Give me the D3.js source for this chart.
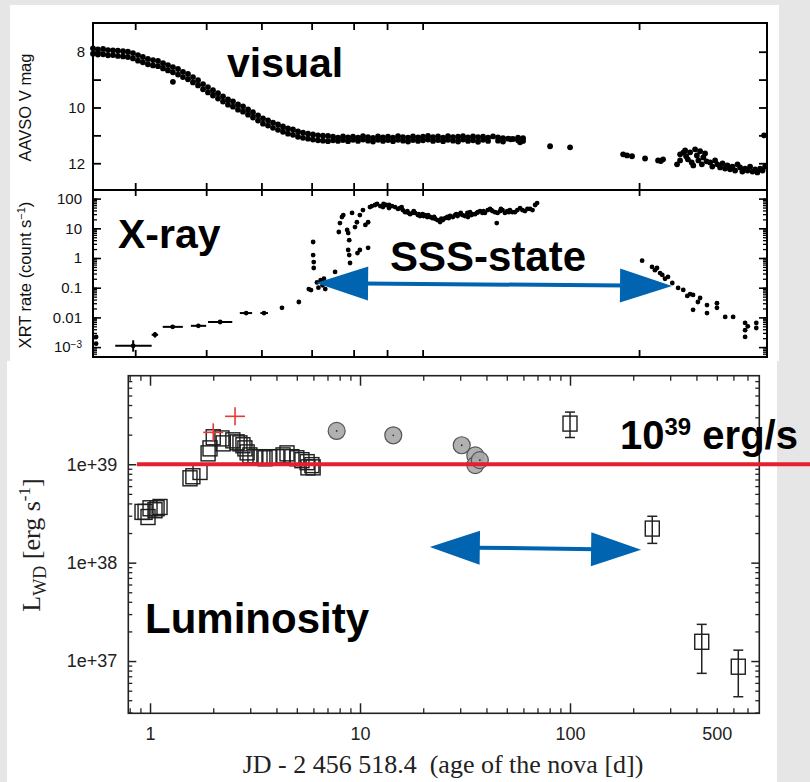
<!DOCTYPE html>
<html>
<head>
<meta charset="utf-8">
<script src="https://d3js.org/d3.v7.min.js"></script>
<style>
body { margin: 0; background: #e6e6e6; }
svg { display: block; }
</style>
</head>
<body>
<div id="chart"></div>
<script>
// ----------------------------------------
// DATA

// AAVSO visual light curve: [age (d), V mag]
var visual = [
	[0.300,7.88],[0.300,8.07],[0.316,7.92],[0.316,8.10],[0.334,7.90],[0.334,8.09],[0.352,7.94],[0.352,8.13],
	[0.371,7.95],[0.371,8.12],[0.391,7.96],[0.391,8.15],[0.413,7.98],[0.413,8.17],[0.435,8.00],[0.435,8.19],
	[0.459,8.05],[0.459,8.24],[0.484,8.12],[0.484,8.32],[0.510,8.19],[0.510,8.38],[0.538,8.26],[0.538,8.45],
	[0.568,8.30],[0.568,8.49],[0.599,8.33],[0.599,8.52],[0.632,8.41],[0.632,8.60],[0.666,8.48],[0.666,8.67],
	[0.702,8.55],[0.702,8.74],[0.702,9.08],[0.741,8.62],[0.741,8.82],[0.781,8.72],[0.781,8.91],[0.824,8.80],[0.824,8.99],
	[0.869,8.91],[0.869,9.10],[0.917,9.02],[0.917,9.21],[0.967,9.16],[0.967,9.35],[1.019,9.27],[1.019,9.46],
	[1.075,9.38],[1.075,9.57],[1.134,9.49],[1.134,9.68],[1.196,9.60],[1.196,9.79],[1.261,9.71],[1.261,9.90],
	[1.330,9.78],[1.330,9.97],[1.403,9.89],[1.403,10.08],[1.480,9.96],[1.480,10.15],[1.561,10.07],[1.561,10.26],
	[1.646,10.17],[1.646,10.36],[1.736,10.28],[1.736,10.47],[1.830,10.39],[1.830,10.58],[1.931,10.46],[1.931,10.65],
	[2.036,10.54],[2.036,10.73],[2.147,10.61],[2.147,10.80],[2.264,10.68],[2.264,10.87],[2.388,10.75],[2.388,10.94],
	[2.518,10.79],[2.518,10.98],[2.656,10.86],[2.656,11.05],[2.801,10.90],[2.801,11.09],[2.954,10.94],[2.954,11.12],
	[3.115,10.97],[3.115,11.15],[3.286,11.00],[3.286,11.18],[3.465,11.01],[3.465,11.19],[3.654,11.02],[3.654,11.21],
	[3.855,11.05],[3.855,11.18],[4.065,11.08],[4.065,11.20],[4.288,11.04],[4.288,11.17],[4.522,11.07],[4.522,11.21],
	[4.769,11.05],[4.769,11.16],[5.029,11.08],[5.029,11.20],[5.304,11.03],[5.304,11.15],[5.594,11.06],[5.594,11.19],
	[5.899,11.09],[5.899,11.22],[6.222,11.04],[6.222,11.16],[6.561,11.07],[6.561,11.20],[6.920,11.05],[6.920,11.17],
	[7.298,11.08],[7.298,11.21],[7.697,11.03],[7.697,11.16],[8.118,11.06],[8.118,11.19],[8.561,11.08],[8.561,11.22],
	[9.029,11.04],[9.029,11.17],[9.522,11.07],[9.522,11.20],[10.04,11.05],[10.04,11.18],[10.59,11.02],[10.59,11.15],
	[11.17,11.06],[11.17,11.20],[11.78,11.04],[11.78,11.17],[12.43,11.08],[12.43,11.21],[13.10,11.03],[13.10,11.16],
	[13.82,11.06],[13.82,11.19],[14.58,11.05],[14.58,11.22],[15.37,11.03],[15.37,11.15],[16.21,11.07],[16.21,11.20],
	[17.10,11.04],[17.10,11.18],[18.03,11.06],[18.03,11.23],[19.02,11.05],[19.02,11.16],[20.06,11.08],[20.06,11.20],
	[21.15,11.04],[22.31,11.07],[22.31,11.19],[23.52,11.10],[23.52,11.22],[24.81,11.12],[25.5,11.14],[26.17,11.13],
	[27.60,11.08],[27.60,11.18],[28.2,11.25],[29.11,11.10],[29.11,11.20],
	[38.8,11.39],[48.0,11.43],
	[84.4,11.68],[88.0,11.72],[92.8,11.75],[106.6,11.83],[122.4,11.90],[126,11.92],[129.1,11.86],[149.8,12.04],
	[154.7,11.68],[154.7,11.90],[160,11.62],[163.2,11.54],[165,11.75],[168,11.86],[172.1,11.61],[175,11.97],
	[178,12.08],[181.5,11.50],[185,11.72],[188,11.90],[191.4,11.57],[195,12.04],[198,11.79],[201.8,11.65],
	[205,11.93],[212.9,11.97],[218,12.12],[224.5,11.90],[230,12.04],[236.8,12.15],[243,12.01],[249.7,12.19],
	[256,12.08],[263.4,12.22],[270,12.12],[277.7,12.26],[285,12.04],[292.9,12.15],[300,12.30],[309,12.19],
	[317,12.26],[325.8,12.12],[334,12.30],[343.6,12.22],[352,12.33],[362.4,12.19],[372,12.26],[378,11.0],[382.2,12.12]
];

// Swift XRT count rate: [age (d), rate]
var xray = [
	[0.31,0.0022],[0.31,0.0013],
	[2.24,0.021],[2.68,0.033],[2.98,0.09],[3.05,0.083],[3.12,3.46],[3.12,1.26],[3.14,0.73],[3.14,0.46],
	[3.25,0.15],[3.3,0.1],[3.38,0.18],[3.45,0.12],[3.55,0.09],[3.6,0.14],[3.5,0.2],
	[3.94,0.34],[4.1,7.5],[4.15,15],[4.24,24],[4.3,28],[4.48,8.8],[4.53,6.9],[4.58,4.0],[4.53,1.86],[4.58,1.26],
	[4.62,0.68],[4.87,11],[4.97,16],[5.0,1.47],[5.13,1.86],[5.6,2.2],[4.72,33],[5.13,28],[5.3,41],[5.44,13],
	[5.6,16],[5.71,52],
	[5.83,56],[6.03,61],[6.16,66],[6.37,56],[6.56,52],[6.78,61],[6.99,48],[7.22,56],[7.46,52],[7.7,45],
	[7.86,48],[8.1,41],[8.3,35],[8.5,38],[8.75,30],[9.0,33],[9.22,33],[9.5,28],[9.73,26],[10.0,30],
	[10.26,28],[10.5,24],[10.82,24],[11.1,22],[11.42,21],[11.7,19],[12.04,16.3],[12.4,19],[12.7,22],[13.0,24],
	[13.39,26],[13.8,24],[14.12,28],[14.5,26],[14.89,30],[15.3,28],[15.7,26],[16.1,33],[16.2,24],[16.56,35],
	[17.0,30],[17.47,30],[18.0,35],[18.42,38],[18.9,33],[19.4,33],[20.0,41],[20.5,45],[21.0,38],[21.6,35],
	[22.0,15],[22.2,33],[22.8,38],[23.4,41],[24.0,33],[24.6,38],[25.3,41],[26.0,35],[26.7,35],[27.4,41],
	[28.2,48],[28.9,41],[29.7,38],[30.5,45],[31.35,45],[32.2,41],[33.1,61],[33.8,71],
	[6.6,66],[7.0,61],[8.0,52],[8.6,33],[9.1,38],[9.6,30],[10.1,26],[10.6,28],[11.3,24],[12.2,21],
	[13.2,22],[14.3,30],[15.0,33],[16.8,28],[17.8,33],[19.1,38],[20.8,41],[23.0,45],[25.0,35],
	[103.3,0.81],[114.8,0.50],[118.4,0.39],[121,0.46],[125,0.31],[128,0.27],[131.8,0.20],[136,0.23],
	[142.4,0.144],[151.5,0.098],[160,0.084],[167,0.053],[172.1,0.061],[177.6,0.057],[177.6,0.018],[187,0.033],
	[191.4,0.045],[206,0.026],[206,0.014],[229,0.030],[229,0.021],[250,0.0104],[272,0.0104],
	[309,0.0065],[309,0.0037],[309,0.0022],[318,0.005],[348,0.0065],[348,0.0044]
];

// early binned XRT points: [age, rate, ageLo, ageHi, rateLo, rateHi]
var xrayBins = [
	[0.46,0.0011,0.38,0.56,0.0007,0.0017],
	[0.58,0.0026,0.56,0.60,0.0021,0.0032],
	[0.70,0.0048,0.63,0.78,0.0042,0.0055],
	[0.92,0.0052,0.85,1.00,0.0046,0.0059],
	[1.16,0.0070,1.02,1.32,0.0063,0.0078],
	[1.53,0.014,1.43,1.63,0.012,0.016],
	[1.85,0.014,1.78,1.93,0.012,0.016]
];

// white dwarf luminosity, squares without visible errors: [age, L]
var lumSquares = [
	[0.916,3.28e38],[0.947,3.28e38],[0.978,2.91e38],[1.0,3.57e38],[1.056,3.41e38],[1.08,3.57e38],[1.116,3.68e38],
	[1.55,7.2e38],[1.60,7.55e38],[1.73,8.35e38],[1.89,1.29e39],[1.93,1.45e39],[2.0,1.88e39],[2.2,1.83e39],
	[2.23,1.63e39],[2.48,1.75e39],[2.6,1.67e39],[2.68,1.63e39],[2.77,1.56e39],[2.83,1.45e39],[2.9,1.32e39],
	[2.99,1.23e39],[3.16,1.18e39],[3.34,1.18e39],[3.53,1.15e39],[3.72,1.18e39],[4.02,1.18e39],[4.3,1.23e39],
	[4.49,1.29e39],[4.74,1.18e39],[5.0,1.15e39],[5.29,1.1e39],[5.6,1.05e39],[5.65,0.93e39],[5.9,0.98e39],[5.98,0.93e39]
];
// squares with error bars: [age, L, Llo, Lhi]
var lumSquaresErr = [
	[100,2.59e39,1.87e39,3.39e39],
	[246.5,2.22e38,1.57e38,2.96e38],
	[424,1.57e37,0.75e37,2.36e37],
	[633,0.876e37,0.434e37,1.29e37]
];
var lumCircles = [[7.74,2.18e39],[14.4,1.97e39],[30.5,1.56e39],[35.4,1.23e39],[35.4,0.98e39],[37.2,1.1e39]];
var lumCrosses = [[2.0,2.11e39],[2.54,3.07e39]];

// ticks
var topTicks = [0.47, 1, 1.8, 3.07, 4.8, 6.85, 10, 100];
var visTicks = [8, 9, 10, 11, 12];
var visLabels = [8, 10, 12];
var xrayTicks = [0.001, 0.01, 0.1, 1, 10, 100];
var lumXMajor = [1, 10, 100];
var lumXLabels = [1, 10, 100, 500];
var lumYTicks = [1e37, 1e38, 1e39];

// annotations: [age, value]
var sssArrow = [[3.22, 0.144], [142, 0.114]];
var lumArrow = [[21.5, 1.44e38], [218, 1.35e38]];
var eddLevel = 1e39, eddStart = 0.867;

// ----------------------------------------
// SETUP
var W = 810, H = 782;
var SANS = '"Liberation Sans", Arial, sans-serif';
var SERIF = '"Liberation Serif", "Times New Roman", serif';

var svg = d3.select("#chart").append("svg")
	.attr("width", W)
	.attr("height", H);

svg.append("rect").attr("width", W).attr("height", H).attr("fill", "#e6e6e6");
svg.append("rect").attr("x", 10).attr("y", 5).attr("width", 769).attr("height", 356).attr("fill", "#fff");
svg.append("rect").attr("x", 7).attr("y", 361).attr("width", 770).attr("height", 421).attr("fill", "#fff");

function logMinors(lo, hi) {
	var out = [];
	for (var e = Math.floor(Math.log10(lo)); e <= Math.ceil(Math.log10(hi)); e++) {
		for (var k = 1; k < 10; k++) {
			var v = k * Math.pow(10, e);
			if (v >= lo && v <= hi) out.push(v);
		}
	}
	return out;
}

function ticks(g, axis, color, width) {
	g.call(axis);
	g.select(".domain").remove();
	g.selectAll(".tick line").attr("stroke", color).attr("stroke-width", width);
	return g;
}

// ----------------------------------------
// TOP FIGURE (visual + X-ray)
var xTop = d3.scaleLog().domain([0.3, 390]).range([93, 767]);
var yVis = d3.scaleLinear().domain([6.97, 12.96]).range([23, 190]);
var yXr = d3.scaleLog().domain([4.64e-4, 195]).range([357, 190]);

var topG = svg.append("g");

// x ticks
ticks(topG.append("g").attr("transform", "translate(0,23)"),
	d3.axisBottom(xTop).tickValues(topTicks).tickSize(7).tickFormat(""), "#000", 1.8);
ticks(topG.append("g").attr("transform", "translate(0,190)"),
	d3.axisTop(xTop).tickValues(topTicks).tickSize(7).tickFormat(""), "#000", 1.8);
ticks(topG.append("g").attr("transform", "translate(0,190)"),
	d3.axisBottom(xTop).tickValues(topTicks).tickSize(6).tickFormat(""), "#000", 1.8);
ticks(topG.append("g").attr("transform", "translate(0,357)"),
	d3.axisTop(xTop).tickValues(topTicks).tickSize(7).tickFormat(""), "#000", 1.8);

// visual y axis
ticks(topG.append("g").attr("transform", "translate(93,0)"),
	d3.axisLeft(yVis).tickValues(visTicks).tickSize(-8).tickPadding(8)
		.tickFormat(function (d) { return visLabels.indexOf(d) >= 0 ? d : ""; }), "#000", 1.8);
ticks(topG.append("g").attr("transform", "translate(767,0)"),
	d3.axisRight(yVis).tickValues(visTicks).tickSize(-8).tickFormat(""), "#000", 1.8);

// x-ray y axis
var gx = ticks(topG.append("g").attr("transform", "translate(93,0)"),
	d3.axisLeft(yXr).tickValues(xrayTicks).tickSize(-8).tickPadding(11)
		.tickFormat(function (d) { return d === 0.001 ? "10" : d3.format("~g")(d); }), "#000", 1.6);
ticks(topG.append("g").attr("transform", "translate(93,0)"),
	d3.axisLeft(yXr).tickValues(logMinors(5e-4, 190)).tickSize(-4).tickFormat(""), "#000", 1.3);
ticks(topG.append("g").attr("transform", "translate(767,0)"),
	d3.axisRight(yXr).tickValues(xrayTicks).tickSize(-8).tickFormat(""), "#000", 1.6);
ticks(topG.append("g").attr("transform", "translate(767,0)"),
	d3.axisRight(yXr).tickValues(logMinors(5e-4, 190)).tickSize(-4).tickFormat(""), "#000", 1.3);

topG.selectAll(".tick text")
	.attr("font-family", SANS)
	.attr("font-size", "15px")
	.attr("fill", "#111");
gx.selectAll(".tick text").filter(function (d) { return d === 0.001; })
	.append("tspan").attr("dy", "-0.45em").attr("font-size", "10px").text("\u22123");

// frame
topG.append("rect")
	.attr("x", xTop.range()[0]).attr("y", yVis.range()[0])
	.attr("width", xTop.range()[1] - xTop.range()[0])
	.attr("height", yXr.range()[0] - yVis.range()[0])
	.attr("fill", "none").attr("stroke", "#000").attr("stroke-width", 2);
topG.append("line")
	.attr("x1", xTop.range()[0]).attr("x2", xTop.range()[1])
	.attr("y1", yVis.range()[1]).attr("y2", yVis.range()[1])
	.attr("stroke", "#000").attr("stroke-width", 2);

// y titles
topG.append("text")
	.attr("transform", "translate(31," + yVis(10) + ") rotate(-90)")
	.attr("text-anchor", "middle")
	.attr("font-family", SANS).attr("font-size", "16.5px").attr("fill", "#111")
	.text("AAVSO V mag");
var xt = topG.append("text")
	.attr("transform", "translate(31,275) rotate(-90)")
	.attr("text-anchor", "middle")
	.attr("font-family", SANS).attr("font-size", "16.5px").attr("fill", "#111");
xt.append("tspan").text("XRT rate (count s");
xt.append("tspan").attr("dy", "-6").attr("font-size", "11px").text("\u22121");
xt.append("tspan").attr("dy", "6").text(")");

// visual points
topG.append("g").selectAll("circle")
	.data(visual).enter().append("circle")
	.attr("cx", function (d) { return xTop(d[0]); })
	.attr("cy", function (d) { return yVis(d[1]); })
	.attr("r", 2.9)
	.attr("fill", "#000");

// x-ray binned points with error bars
var bins = topG.append("g").attr("stroke", "#000").attr("stroke-width", 2);
xrayBins.forEach(function (d) {
	bins.append("line")
		.attr("x1", xTop(d[2])).attr("x2", xTop(d[3]))
		.attr("y1", yXr(d[1])).attr("y2", yXr(d[1]));
	bins.append("line")
		.attr("x1", xTop(d[0])).attr("x2", xTop(d[0]))
		.attr("y1", yXr(d[4])).attr("y2", yXr(d[5]));
});
topG.append("g").selectAll("circle")
	.data(xrayBins).enter().append("circle")
	.attr("cx", function (d) { return xTop(d[0]); })
	.attr("cy", function (d) { return yXr(d[1]); })
	.attr("r", 2.4).attr("fill", "#000");

// x-ray points
topG.append("g").selectAll("circle")
	.data(xray).enter().append("circle")
	.attr("cx", function (d) { return xTop(d[0]); })
	.attr("cy", function (d) { return yXr(d[1]); })
	.attr("r", 2.4)
	.attr("fill", "#000");

// ----------------------------------------
// BOTTOM FIGURE (luminosity)
var xL = d3.scaleLog().domain([0.788, 797]).range([128.3, 759.3]);
var yL = d3.scaleLog().domain([Math.pow(10, 36.469), Math.pow(10, 39.90)]).range([713.3, 375.7]);
var AX = "#222";
var bot = svg.append("g");

var xMinor = logMinors(0.79, 790).filter(function (d) { return lumXMajor.indexOf(d) < 0; });
var yMinor = logMinors(3e36, 7.9e39).filter(function (d) { return lumYTicks.indexOf(d) < 0; });

// x ticks (bottom + top, inward)
ticks(bot.append("g").attr("transform", "translate(0,713.3)"),
	d3.axisTop(xL).tickValues(lumXMajor).tickSize(10).tickFormat(""), AX, 1.5);
ticks(bot.append("g").attr("transform", "translate(0,713.3)"),
	d3.axisTop(xL).tickValues(xMinor).tickSize(5).tickFormat(""), AX, 1.3);
ticks(bot.append("g").attr("transform", "translate(0,375.7)"),
	d3.axisBottom(xL).tickValues(lumXMajor).tickSize(10).tickFormat(""), AX, 1.5);
ticks(bot.append("g").attr("transform", "translate(0,375.7)"),
	d3.axisBottom(xL).tickValues(xMinor).tickSize(5).tickFormat(""), AX, 1.3);
ticks(bot.append("g").attr("transform", "translate(0,713.3)"),
	d3.axisBottom(xL).tickValues(lumXLabels).tickSize(0).tickPadding(14)
		.tickFormat(function (d) { return d; }), AX, 0);

// y ticks (left + right, inward)
ticks(bot.append("g").attr("transform", "translate(128.3,0)"),
	d3.axisLeft(yL).tickValues(lumYTicks).tickSize(-8).tickPadding(11)
		.tickFormat(function (d) { return "1e+" + Math.round(Math.log10(d)); }), AX, 1.5);
ticks(bot.append("g").attr("transform", "translate(128.3,0)"),
	d3.axisLeft(yL).tickValues(yMinor).tickSize(-4).tickFormat(""), AX, 1.3);
ticks(bot.append("g").attr("transform", "translate(759.3,0)"),
	d3.axisRight(yL).tickValues(lumYTicks).tickSize(-8).tickFormat(""), AX, 1.5);
ticks(bot.append("g").attr("transform", "translate(759.3,0)"),
	d3.axisRight(yL).tickValues(yMinor).tickSize(-4).tickFormat(""), AX, 1.3);

bot.selectAll(".tick text")
	.attr("font-family", SANS)
	.attr("font-size", "18px")
	.attr("fill", "#222");

bot.append("rect")
	.attr("x", xL.range()[0]).attr("y", yL.range()[1])
	.attr("width", xL.range()[1] - xL.range()[0])
	.attr("height", yL.range()[0] - yL.range()[1])
	.attr("fill", "none").attr("stroke", AX).attr("stroke-width", 1.6);

// axis titles
bot.append("text")
	.attr("x", 443).attr("y", 773)
	.attr("text-anchor", "middle")
	.attr("font-family", SERIF).attr("font-size", "26px").attr("fill", "#222")
	.style("white-space", "pre")
	.text("JD - 2 456 518.4  (age of the nova [d])");
var yt = bot.append("text")
	.attr("transform", "translate(40,545) rotate(-90)")
	.attr("text-anchor", "middle")
	.attr("font-family", SERIF).attr("font-size", "26px").attr("fill", "#222")
	.style("white-space", "pre");
yt.append("tspan").text("L");
yt.append("tspan").attr("dy", "6").attr("font-size", "18px").text("WD");
yt.append("tspan").attr("dy", "-6").text(" [erg s");
yt.append("tspan").attr("dy", "-10").attr("font-size", "17px").text("-1");
yt.append("tspan").attr("dy", "10").text("]");

// error bars for late squares
var eb = bot.append("g").attr("stroke", "#222").attr("stroke-width", 1.5);
lumSquaresErr.forEach(function (d) {
	var x = xL(d[0]);
	eb.append("line").attr("x1", x).attr("x2", x).attr("y1", yL(d[2])).attr("y2", yL(d[3]));
	eb.append("line").attr("x1", x - 5).attr("x2", x + 5).attr("y1", yL(d[2])).attr("y2", yL(d[2]));
	eb.append("line").attr("x1", x - 5).attr("x2", x + 5).attr("y1", yL(d[3])).attr("y2", yL(d[3]));
});

// squares
bot.append("g").selectAll("rect")
	.data(lumSquares.concat(lumSquaresErr)).enter().append("rect")
	.attr("x", function (d) { return xL(d[0]) - 7; })
	.attr("y", function (d) { return yL(d[1]) - 7.5; })
	.attr("width", 14).attr("height", 15)
	.attr("fill", "none")
	.attr("stroke", "#1e1e1e")
	.attr("stroke-width", 1.4);

// gray circles
var circ = bot.append("g").selectAll("g")
	.data(lumCircles).enter().append("g")
	.attr("transform", function (d) { return "translate(" + xL(d[0]) + "," + yL(d[1]) + ")"; });
circ.append("circle").attr("r", 8.5)
	.attr("fill", "#a8a8a8").attr("fill-opacity", 0.9)
	.attr("stroke", "#555").attr("stroke-width", 1.2);
circ.append("circle").attr("r", 0.9).attr("fill", "#333");

// red crosses
var cr = bot.append("g").attr("stroke", "#e53935").attr("stroke-width", 1.6);
lumCrosses.forEach(function (d) {
	var x = xL(d[0]), y = yL(d[1]);
	cr.append("line").attr("x1", x - 10).attr("x2", x + 10).attr("y1", y).attr("y2", y);
	cr.append("line").attr("x1", x).attr("x2", x).attr("y1", y - 9).attr("y2", y + 9);
});

// 10^39 erg/s level
bot.append("line")
	.attr("x1", xL(eddStart)).attr("x2", W)
	.attr("y1", yL(eddLevel)).attr("y2", yL(eddLevel))
	.attr("stroke", "#e3202b").attr("stroke-width", 4);

// ----------------------------------------
// ANNOTATIONS
var BLUE = "#0064b0";
function arrow(x1, y1, x2, y2, len, half) {
	var a = Math.atan2(y2 - y1, x2 - x1), ux = Math.cos(a), uy = Math.sin(a), px = -uy, py = ux;
	svg.append("line")
		.attr("x1", x1 + ux * len * 0.9).attr("y1", y1 + uy * len * 0.9)
		.attr("x2", x2 - ux * len * 0.9).attr("y2", y2 - uy * len * 0.9)
		.attr("stroke", BLUE).attr("stroke-width", 4);
	[[x1, y1, 1], [x2, y2, -1]].forEach(function (p) {
		var bx = p[0] + p[2] * ux * len, by = p[1] + p[2] * uy * len;
		svg.append("path")
			.attr("d", "M" + p[0] + "," + p[1] + "L" + (bx + px * half) + "," + (by + py * half) +
				"L" + (bx - px * half) + "," + (by - py * half) + "Z")
			.attr("fill", BLUE);
	});
}
arrow(xTop(sssArrow[0][0]), yXr(sssArrow[0][1]), xTop(sssArrow[1][0]), yXr(sssArrow[1][1]), 52, 17);
arrow(xL(lumArrow[0][0]), yL(lumArrow[0][1]), xL(lumArrow[1][0]), yL(lumArrow[1][1]), 50, 17);

function label(x, y, size, txt) {
	return svg.append("text").attr("x", x).attr("y", y)
		.attr("font-family", SANS).attr("font-weight", "bold")
		.attr("font-size", size + "px").attr("fill", "#000").text(txt);
}
label(227, 77, 41, "visual");
label(118, 248, 41, "X-ray");
label(390, 271, 42, "SSS-state");
label(145, 633, 42, "Luminosity");
var edd = label(620, 449, 40, "10");
edd.append("tspan").attr("dy", "-14").attr("font-size", "24px").text("39");
edd.append("tspan").attr("dy", "14").text(" erg/s");
</script>
</body>
</html>
